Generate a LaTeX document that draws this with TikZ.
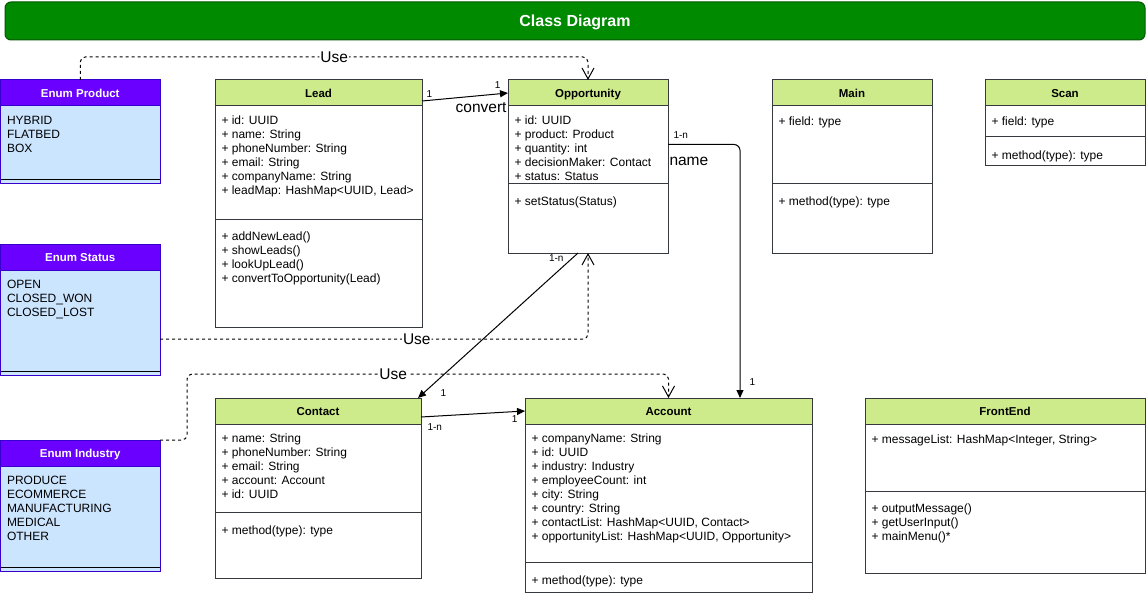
\documentclass[tikz,border=0pt]{standalone}
\usepackage{fontspec}
\setmainfont{Liberation Sans}
\usetikzlibrary{arrows.meta,positioning}
\definecolor{boxline}{HTML}{36393D}
\definecolor{headgreen}{HTML}{CDEB8B}
\definecolor{enumpurple}{HTML}{6A00FF}
\definecolor{enumline}{HTML}{3700CC}
\definecolor{enumblue}{HTML}{CCE5FF}
\definecolor{titlegreen}{HTML}{008A00}
\definecolor{titleline}{HTML}{005700}
\begin{document}
\begin{tikzpicture}[
x=1pt, y=-1pt, line width=1pt,
title/.style={draw=titleline, fill=titlegreen, rounded corners=6pt, text=white, minimum width=1140pt, minimum height=38pt, text height=11.5pt, text depth=0pt, font=\bfseries\fontsize{16}{19}\selectfont},
head/.style={draw=boxline, fill=headgreen, outer sep=0pt, inner sep=0pt, minimum height=26pt, text height=8.2pt, text depth=0pt, anchor=north west, font=\bfseries\fontsize{11.5}{14}\selectfont},
enumhead/.style={head, draw=enumline, fill=enumpurple, text=white},
part/.style={draw=boxline, fill=white, outer sep=0pt, inner sep=0pt, anchor=north},
enumpart/.style={part, draw=enumline, fill=enumblue},
memberlist/.style={anchor=north west, inner sep=0pt, align=left, font=\fontsize{12}{14}\selectfont, execute at begin node=\strut},
fields/.style={memberlist, xshift=6pt, yshift=-9.5pt},
methods/.style={memberlist, xshift=6pt, yshift=-12.5pt},
assoc/.style={-{Triangle[length=8pt,width=7pt]}},
uses/.style={dash pattern=on 3pt off 3pt, rounded corners=5pt, -{Straight Barb[length=11pt,width=12pt]}},
mult/.style={inner sep=1pt, font=\fontsize{10}{12}\selectfont},
uselabel/.style={fill=white, inner sep=1pt, font=\fontsize{15.5}{18}\selectfont},
rolelabel/.style={inner sep=1pt, font=\fontsize{15.5}{18}\selectfont}]
    \useasboundingbox (0,0) rectangle (1147,596);

    % Title bar
    \node[title] (banner) at (575,21) {Class Diagram};

    % Enums
    \node[enumhead, minimum width=159.5pt] (product) at (0.5,80) {Enum Product};
    \node[enumpart, minimum width=159.5pt, minimum height=73pt] (productattr) at (product.south) {};
    \node[fields] at (productattr.north west) {HYBRID\\FLATBED\\BOX};
    \node[enumpart, minimum width=159.5pt, minimum height=4pt] (productops) at (productattr.south) {};
    \draw (productops.north west) -- (productops.north east);

    \node[enumhead, minimum width=159.5pt] (status) at (0.5,244) {Enum Status};
    \node[enumpart, minimum width=159.5pt, minimum height=101pt] (statusattr) at (status.south) {};
    \node[fields] at (statusattr.north west) {OPEN\\CLOSED\_WON\\CLOSED\_LOST};
    \node[enumpart, minimum width=159.5pt, minimum height=4pt] (statusops) at (statusattr.south) {};
    \draw (statusops.north west) -- (statusops.north east);

    \node[enumhead, minimum width=159.5pt] (industry) at (0.5,440) {Enum Industry};
    \node[enumpart, minimum width=159.5pt, minimum height=101pt] (industryattr) at (industry.south) {};
    \node[fields] at (industryattr.north west) {PRODUCE\\ECOMMERCE\\MANUFACTURING\\MEDICAL\\OTHER};
    \node[enumpart, minimum width=159.5pt, minimum height=4pt] (industryops) at (industryattr.south) {};
    \draw (industryops.north west) -- (industryops.north east);

    % Classes
    \node[head, minimum width=207pt] (lead) at (215,80) {Lead};
    \node[part, minimum width=207pt, minimum height=113pt] (leadattr) at (lead.south) {};
    \node[fields] at (leadattr.north west) {+ id: UUID\\+ name: String\\+ phoneNumber: String\\+ email: String\\+ companyName: String\\+ leadMap: HashMap<UUID, Lead>};
    \node[part, minimum width=207pt, minimum height=108pt] (leadops) at (leadattr.south) {};
    \node[methods] at (leadops.north west) {+ addNewLead()\\+ showLeads()\\+ lookUpLead()\\+ convertToOpportunity(Lead)};

    \node[head, minimum width=160pt] (opp) at (508,80) {Opportunity};
    \node[part, minimum width=160pt, minimum height=77pt] (oppattr) at (opp.south) {};
    \node[fields] at (oppattr.north west) {+ id: UUID\\+ product: Product\\+ quantity: int\\+ decisionMaker: Contact\\+ status: Status};
    \node[part, minimum width=160pt, minimum height=70pt] (oppops) at (oppattr.south) {};
    \node[methods] at (oppops.north west) {+ setStatus(Status)};

    \node[head, minimum width=160pt] (main) at (772,80) {Main};
    \node[part, minimum width=160pt, minimum height=77pt] (mainattr) at (main.south) {};
    \node[fields] at (mainattr.north west) {+ field: type};
    \node[part, minimum width=160pt, minimum height=70pt] (mainops) at (mainattr.south) {};
    \node[methods] at (mainops.north west) {+ method(type): type};

    \node[head, minimum width=160pt] (scan) at (985,80) {Scan};
    \node[part, minimum width=160pt, minimum height=31pt] (scanattr) at (scan.south) {};
    \node[fields] at (scanattr.north west) {+ field: type};
    \node[part, minimum width=160pt, minimum height=29pt] (scanops) at (scanattr.south) {};
    \node[methods] at (scanops.north west) {+ method(type): type};

    \node[head, minimum width=206pt] (contact) at (215,398) {Contact};
    \node[part, minimum width=206pt, minimum height=88pt] (contactattr) at (contact.south) {};
    \node[fields] at (contactattr.north west) {+ name: String\\+ phoneNumber: String\\+ email: String\\+ account: Account\\+ id: UUID};
    \node[part, minimum width=206pt, minimum height=66pt] (contactops) at (contactattr.south) {};
    \node[methods] at (contactops.north west) {+ method(type): type};

    \node[head, minimum width=287pt] (acct) at (525,398) {Account};
    \node[part, minimum width=287pt, minimum height=138pt] (acctattr) at (acct.south) {};
    \node[fields] at (acctattr.north west) {+ companyName: String\\+ id: UUID\\+ industry: Industry\\+ employeeCount: int\\+ city: String\\+ country: String\\+ contactList: HashMap<UUID, Contact>\\+ opportunityList: HashMap<UUID, Opportunity>};
    \node[part, minimum width=287pt, minimum height=30pt] (acctops) at (acctattr.south) {};
    \node[methods] at (acctops.north west) {+ method(type): type};

    \node[head, minimum width=280pt] (front) at (865,398) {FrontEnd};
    \node[part, minimum width=280pt, minimum height=67pt] (frontattr) at (front.south) {};
    \node[fields] at (frontattr.north west) {+ messageList: HashMap<Integer, String>};
    \node[part, minimum width=280pt, minimum height=82pt] (frontops) at (frontattr.south) {};
    \node[methods] at (frontops.north west) {+ outputMessage()\\+ getUserInput()\\+ mainMenu()*};

    % Associations
    \draw[assoc] ([yshift=-8pt]lead.east) -- (opp.west)
        node[mult, at start, anchor=south west, xshift=3pt, yshift=2pt] {1}
        node[mult, at end, anchor=south east, xshift=-6pt, yshift=3pt] {1}
        node[rolelabel, at end, anchor=north east, yshift=-8pt] {convert};
    \draw[assoc, rounded corners=6pt] (oppattr.east) -| ([xshift=71.5pt]acct.north)
        node[mult, at start, anchor=south west, xshift=4pt, yshift=4pt] {1-n}
        node[rolelabel, at start, anchor=north west, yshift=-11pt] {name}
        node[mult, at end, anchor=south west, xshift=8pt, yshift=11pt] {1};
    \draw[assoc] ([xshift=-10pt]oppops.south) -- ([xshift=-3pt]contact.north east)
        node[mult, at start, anchor=north east, xshift=-13pt] {1-n}
        node[mult, at end, anchor=south west, xshift=21pt] {1};
    \draw[assoc] ([yshift=-6pt]contact.east) -- (acct.west)
        node[mult, at start, anchor=north west, xshift=5pt, yshift=-5pt] {1-n}
        node[mult, at end, anchor=north east, xshift=-6pt, yshift=-3pt] {1};

    % Dependencies
    \draw[uses] (product.north) -- ++(0,-23) -| (opp.north)
        node[uselabel, pos=0.25] {Use};
    \draw[uses] ([yshift=-18.5pt]statusattr.east) -| (oppops.south)
        node[uselabel, pos=0.3] {Use};
    \draw[uses] (industry.north east) -- ++(27,0) -- ++(0,-66) -| (acct.north)
        node[uselabel, pos=0.214] {Use};
\end{tikzpicture}
\end{document}
